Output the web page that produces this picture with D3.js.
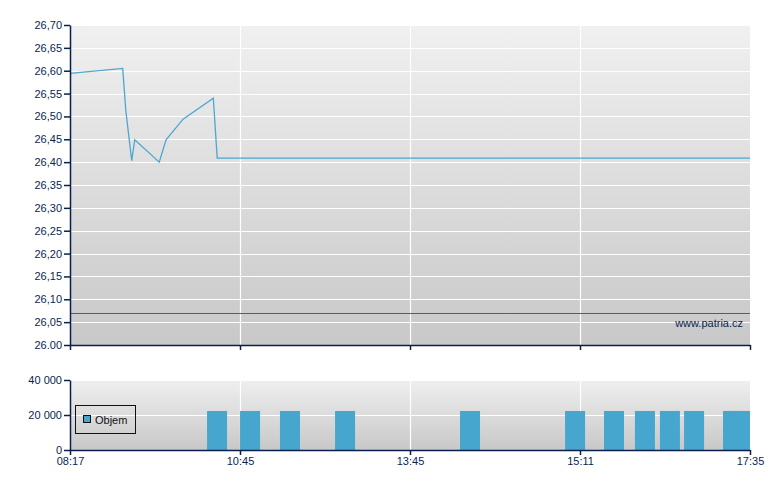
<!DOCTYPE html>
<html><head><meta charset="utf-8">
<script src="https://cdn.jsdelivr.net/npm/d3@7"></script>
<style>body{margin:0;background:#fff;}svg{display:block;font-family:"Liberation Sans",Arial,sans-serif;}</style>
</head><body>
<script>
// x positions expressed in units of the x-axis tick slots (0 = 08:17 ... 4 = 17:35)
const xTickLabels = ["08:17","10:45","13:45","15:11","17:35"];
const priceX = [0, 0.31, 0.328, 0.363, 0.381, 0.525, 0.565, 0.665, 0.843, 0.866, 4.0];
const priceY = [26.594, 26.605, 26.514, 26.403, 26.449, 26.400, 26.449, 26.494, 26.540, 26.409, 26.409];
const refLine = 26.07;
const priceTicks = [26.00,26.05,26.10,26.15,26.20,26.25,26.30,26.35,26.40,26.45,26.50,26.55,26.60,26.65,26.70];
const priceTickLabels = ["26.00","26,05","26,10","26,15","26,20","26,25","26,30","26,35","26,40","26,45","26,50","26,55","26,60","26,65","26,70"];
const volX = [0.865, 1.059, 1.294, 1.618, 2.353, 2.971, 3.2, 3.382, 3.529, 3.671, 3.9, 3.941];
const volY = [22300, 22300, 22300, 22300, 22300, 22300, 22300, 22300, 22300, 22300, 22300, 22300];
const volTicks = [0, 20000, 40000];
const volTickLabels = ["0","20 000","40 000"];

const W = 780, H = 490;
const L = 70, R = 750;
const top1 = 25, bot1 = 345, top2 = 380, bot2 = 450;
const navy = "#0b1f4f";

const svg = d3.select("body").append("svg").attr("width", W).attr("height", H);
const defs = svg.append("defs");
const g1 = defs.append("linearGradient").attr("id","bg1").attr("x1",0).attr("y1",0).attr("x2",0).attr("y2",1);
g1.append("stop").attr("offset","0%").attr("stop-color","#f0f0f0");
g1.append("stop").attr("offset","100%").attr("stop-color","#c8c8c8");
const g2 = defs.append("linearGradient").attr("id","bg2").attr("x1",0).attr("y1",0).attr("x2",0).attr("y2",1);
g2.append("stop").attr("offset","0%").attr("stop-color","#efefef");
g2.append("stop").attr("offset","100%").attr("stop-color","#c8c8c8");
defs.append("clipPath").attr("id","c1").append("rect").attr("x",L).attr("y",top1).attr("width",R-L).attr("height",bot1-top1);
defs.append("clipPath").attr("id","c2").append("rect").attr("x",L).attr("y",top2).attr("width",R-L).attr("height",bot2-top2);

const x = d3.scaleLinear().domain([0,4]).range([L,R]);
const y1 = d3.scaleLinear().domain([26.0,26.7]).range([bot1,top1]);
const y2 = d3.scaleLinear().domain([0,40000]).range([bot2,top2]);

// backgrounds
svg.append("rect").attr("x",L).attr("y",top1).attr("width",R-L).attr("height",bot1-top1).attr("fill","url(#bg1)");
svg.append("rect").attr("x",L).attr("y",top2).attr("width",R-L).attr("height",bot2-top2).attr("fill","url(#bg2)");

// grid top
const grid1 = svg.append("g").attr("stroke","#ffffff").attr("stroke-width",1.2);
priceTicks.slice(1).forEach(v => grid1.append("line").attr("x1",L).attr("x2",R).attr("y1",Math.round(y1(v))+0.5).attr("y2",Math.round(y1(v))+0.5));
[1,2,3].forEach(v => grid1.append("line").attr("x1",Math.round(x(v))+0.5).attr("x2",Math.round(x(v))+0.5).attr("y1",top1).attr("y2",bot1));
// grid bottom
const grid2 = svg.append("g").attr("stroke","#ffffff").attr("stroke-width",1.2);
volTicks.slice(1).forEach(v => grid2.append("line").attr("x1",L).attr("x2",R).attr("y1",Math.round(y2(v))+0.5).attr("y2",Math.round(y2(v))+0.5));
[1,2,3].forEach(v => grid2.append("line").attr("x1",Math.round(x(v))+0.5).attr("x2",Math.round(x(v))+0.5).attr("y1",top2).attr("y2",bot2));

// reference line
svg.append("line").attr("x1",L).attr("x2",R).attr("y1",Math.round(y1(refLine))+0.5).attr("y2",Math.round(y1(refLine))+0.5)
  .attr("stroke","#d02a2a").attr("stroke-width",1);

// price line
const pts = priceX.map((d,i)=>[d, priceY[i]]);
svg.append("path").datum(pts).attr("clip-path","url(#c1)")
  .attr("d", d3.line().x(d=>x(d[0])).y(d=>y1(d[1])))
  .attr("fill","none").attr("stroke","#4ea6d0").attr("stroke-width",1.3);

// volume bars
const bw = 20;
svg.append("g").attr("clip-path","url(#c2)").selectAll("rect").data(volX).join("rect")
  .attr("x", (d)=>x(d)-bw/2).attr("width", bw)
  .attr("y", (d,i)=>y2(volY[i])).attr("height",(d,i)=>y2(0)-y2(volY[i]))
  .attr("fill","#47a6ce");

// axes
function styleAxis(g){
  g.selectAll("path,line").attr("stroke",navy).attr("stroke-width",1.5);
  g.selectAll("text").attr("fill",navy).attr("font-size","11px").attr("font-family","'Liberation Sans',Arial,sans-serif");
}
const ay1 = svg.append("g").attr("transform",`translate(${L},0)`)
  .call(d3.axisLeft(y1).tickValues(priceTicks).tickFormat((d,i)=>priceTickLabels[i]).tickSize(6).tickSizeOuter(0).tickPadding(2));
styleAxis(ay1);
const ax1 = svg.append("g").attr("transform",`translate(0,${bot1})`)
  .call(d3.axisBottom(x).tickValues([0,1,2,3,4]).tickFormat("").tickSize(5).tickSizeOuter(0));
styleAxis(ax1);
const ay2 = svg.append("g").attr("transform",`translate(${L},0)`)
  .call(d3.axisLeft(y2).tickValues(volTicks).tickFormat((d,i)=>volTickLabels[i]).tickSize(6).tickSizeOuter(0).tickPadding(2));
styleAxis(ay2);
const ax2 = svg.append("g").attr("transform",`translate(0,${bot2})`)
  .call(d3.axisBottom(x).tickValues([0,1,2,3,4]).tickFormat((d,i)=>xTickLabels[i]).tickSize(5).tickSizeOuter(0).tickPadding(2));
styleAxis(ax2);

// watermark
svg.append("text").attr("x",743).attr("y",327).attr("text-anchor","end")
  .attr("fill",navy).attr("font-size","11px").text("www.patria.cz");

// legend
svg.append("rect").attr("x",75.5).attr("y",405.5).attr("width",60).attr("height",28)
  .attr("fill","none").attr("stroke","#111").attr("stroke-width",1);
svg.append("rect").attr("x",83.5).attr("y",415.5).attr("width",7).attr("height",7)
  .attr("fill","#47a6ce").attr("stroke","#111").attr("stroke-width",1);
svg.append("text").attr("x",95).attr("y",424).attr("fill","#111").attr("font-size","11px").text("Objem");
</script>
</body></html>
